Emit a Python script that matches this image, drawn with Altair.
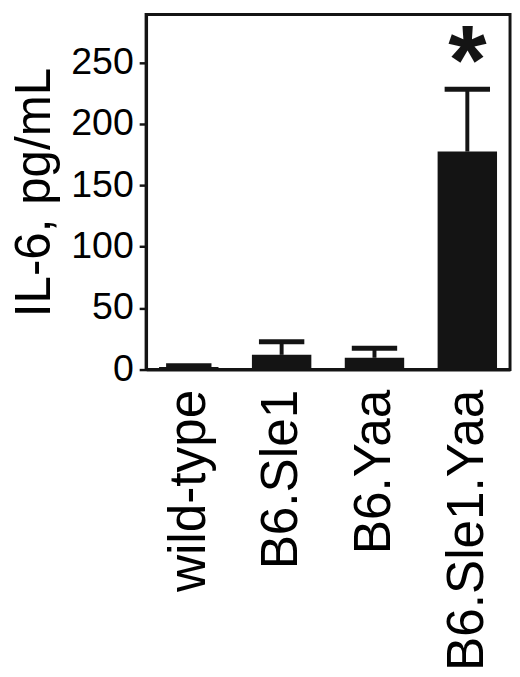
import altair as alt
import pandas as pd

groups = ["wild-type", "B6.Sle1", "B6.Yaa", "B6.Sle1.Yaa"]
means = [2.0, 12.0, 9.6, 177.4]
errors = [1.1, 10.6, 7.8, 50.8]
significant = ["", "", "", "*"]
y_ticks = [0, 50, 100, 150, 200, 250]

df = pd.DataFrame({
    "group": groups,
    "mean": means,
    "err": errors,
    "sig": significant,
})
df["upper"] = df["mean"] + df["err"]

FONT = "Liberation Sans"
INK = "#141414"

x_enc = alt.X(
    "group:N",
    sort=groups,
    scale=alt.Scale(paddingInner=0.36, paddingOuter=0.14),
    axis=alt.Axis(
        title=None,
        labelAngle=-90,
        labelFontSize=52,
        labelFont=FONT,
        labelColor="black",
        labelPadding=20,
        labelLimit=0,
        ticks=False,
        domainColor=INK,
        domainWidth=3,
    ),
)

y_scale = alt.Scale(domain=[0, 289], nice=False)

bars = alt.Chart(df).mark_bar(color=INK).encode(
    x=x_enc,
    y=alt.Y(
        "mean:Q",
        scale=y_scale,
        axis=alt.Axis(
            title="IL-6, pg/mL",
            titleFontSize=50,
            titleFont=FONT,
            titleFontWeight="normal",
            titleColor="black",
            titlePadding=12,
            values=y_ticks,
            labelFontSize=38,
            labelFont=FONT,
            labelColor="black",
            labelPadding=6,
            tickSize=7,
            tickWidth=2.5,
            tickColor=INK,
            domainColor=INK,
            domainWidth=3,
            grid=False,
        ),
    ),
)

rules = alt.Chart(df).mark_rule(color=INK, strokeWidth=4).encode(
    x=alt.X("group:N", sort=groups),
    y=alt.Y("mean:Q", scale=y_scale),
    y2="upper:Q",
)

caps = alt.Chart(df).mark_tick(
    color=INK, size=46, thickness=5, orient="horizontal", opacity=1
).encode(
    x=alt.X("group:N", sort=groups),
    y=alt.Y("upper:Q", scale=y_scale),
)

stars = alt.Chart(df).mark_text(
    color=INK, fontSize=100, font=FONT, fontWeight="bold", baseline="alphabetic", dy=5
).encode(
    x=alt.X("group:N", sort=groups),
    y=alt.Y("upper:Q", scale=y_scale),
    text="sig:N",
)

chart = (
    alt.layer(bars, rules, caps, stars)
    .properties(
        width=369,
        height=360,
        autosize=alt.AutoSizeParams(type="none"),
        padding={"left": 140, "top": 2, "right": 2, "bottom": 300},
    )
    .configure_view(stroke=INK, strokeWidth=3)
)

chart.save("out.html", embed_options={"renderer": "svg", "actions": False})
